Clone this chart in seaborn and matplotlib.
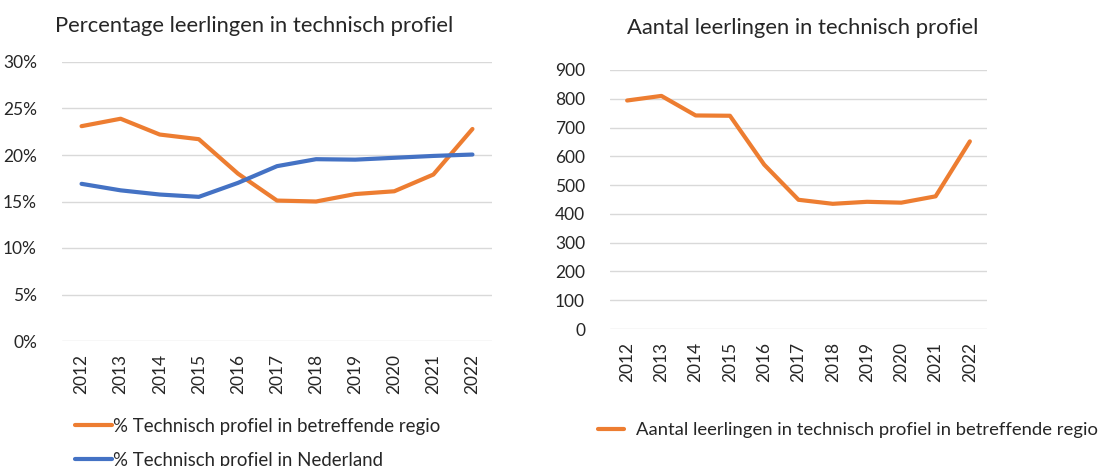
import pandas as pd
import matplotlib.pyplot as plt
import seaborn as sns
from matplotlib.ticker import FuncFormatter

# -------------------------------------------------
# Data
# -------------------------------------------------
years = [2012, 2013, 2014, 2015, 2016, 2017, 2018, 2019, 2020, 2021, 2022]
pct_regio = [23.1, 23.9, 22.2, 21.7, 18.0, 15.1, 15.0, 15.8, 16.1, 17.9, 22.8]
pct_nederland = [16.9, 16.2, 15.75, 15.5, 17.0, 18.8, 19.55, 19.5, 19.7, 19.9, 20.05]
aantal_regio = [794, 810, 742, 741, 571, 449, 435, 442, 439, 461, 652]

label_regio = "% Technisch profiel in betreffende regio"
label_nl = "% Technisch profiel in Nederland"
label_aantal = "Aantal leerlingen in technisch profiel in betreffende regio"

ORANGE = "#ED7D31"
BLUE = "#4472C4"
GRID = "#D9D9D9"
TEXT = "#262626"

sns.set_style("white")
plt.rcParams["font.family"] = ["Lato", "DejaVu Sans"]

W, H = 1103, 466
fig = plt.figure(figsize=(W / 100, H / 100), dpi=100)


def px_axes(x0, y0, x1, y1):
    return fig.add_axes([x0 / W, 1 - y1 / H, (x1 - x0) / W, (y1 - y0) / H])


def style_axes(ax):
    for s in ax.spines.values():
        s.set_visible(False)
    ax.grid(axis="y", color=GRID, linewidth=1)
    ax.set_axisbelow(True)
    ax.tick_params(axis="both", length=0, labelsize=12.5, colors=TEXT)
    ax.tick_params(axis="x", pad=9)
    ax.tick_params(axis="y", pad=18)
    ax.set_xticks(range(len(years)))
    ax.set_xticklabels([str(y) for y in years], rotation=90)
    ax.set_xlim(-0.5, len(years) - 0.5)
    ax.set_xlabel("")
    ax.set_ylabel("")


# -------------------------------------------------
# Left chart: percentage
# -------------------------------------------------
df_pct = pd.DataFrame({
    "idx": list(range(len(years))) * 2,
    "value": pct_regio + pct_nederland,
    "serie": [label_regio] * len(years) + [label_nl] * len(years),
})

ax1 = px_axes(62, 62, 492, 341)
sns.lineplot(data=df_pct, x="idx", y="value", hue="serie",
             palette={label_regio: ORANGE, label_nl: BLUE},
             linewidth=3, ax=ax1, legend=False)
style_axes(ax1)
ax1.set_ylim(0, 30)
ax1.set_yticks(range(0, 31, 5))
ax1.yaxis.set_major_formatter(FuncFormatter(lambda v, p: f"{int(v)}%"))
fig.text(254 / W, 1 - 26 / H, "Percentage leerlingen in technisch profiel",
         ha="center", va="center", fontsize=15.8, color=TEXT)

h1 = plt.Line2D([], [], color=ORANGE, linewidth=3)
h2 = plt.Line2D([], [], color=BLUE, linewidth=3)
fig.legend([h1, h2], [label_regio, label_nl], loc="upper left",
           bbox_to_anchor=(75 / W, 1 - 418 / H), frameon=False,
           borderpad=0, borderaxespad=0,
           fontsize=13.4, handlelength=2.0, handletextpad=0.05,
           labelspacing=0.9, labelcolor=TEXT)

# -------------------------------------------------
# Right chart: aantal
# -------------------------------------------------
df_aantal = pd.DataFrame({"idx": range(len(years)), "value": aantal_regio})

ax2 = px_axes(610, 70, 987, 329)
sns.lineplot(data=df_aantal, x="idx", y="value", color=ORANGE,
             linewidth=3, ax=ax2)
style_axes(ax2)
ax2.set_ylim(0, 900)
ax2.set_yticks(range(0, 901, 100))
fig.text(803 / W, 1 - 28 / H, "Aantal leerlingen in technisch profiel",
         ha="center", va="center", fontsize=15.8, color=TEXT)

h3 = plt.Line2D([], [], color=ORANGE, linewidth=3)
fig.legend([h3], [label_aantal], loc="upper left",
           bbox_to_anchor=(598 / W, 1 - 422 / H), frameon=False,
           borderpad=0, borderaxespad=0,
           fontsize=13.3, handlelength=1.4, handletextpad=0.65,
           labelcolor=TEXT)

fig.savefig("out.png", dpi=100)
